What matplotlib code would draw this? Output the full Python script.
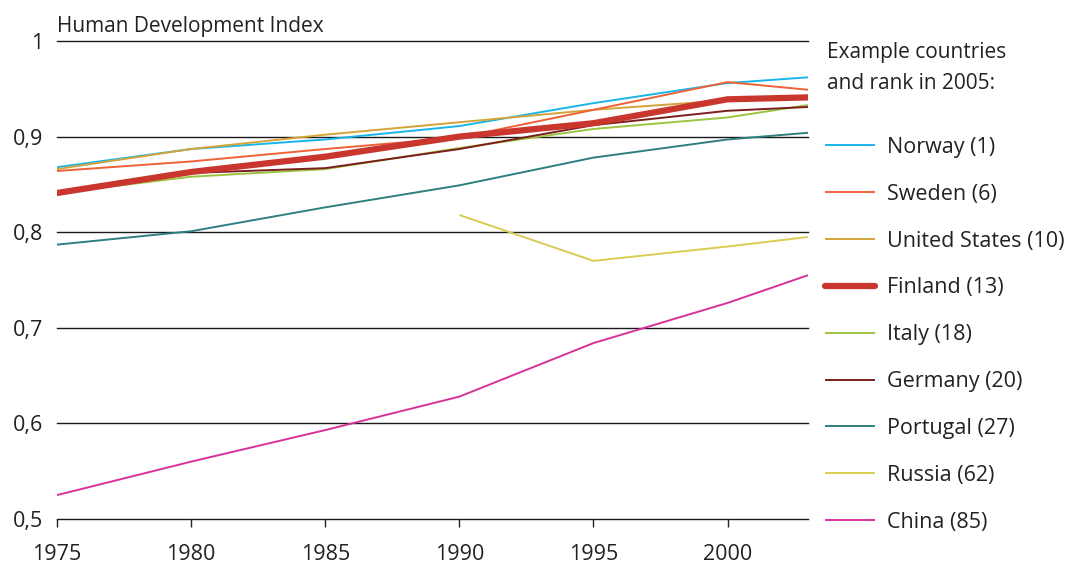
import matplotlib
matplotlib.use("Agg")
import matplotlib.pyplot as plt
from matplotlib.ticker import FuncFormatter

plt.rcParams['font.family'] = ['Open Sans', 'DejaVu Sans']

years = [1975, 1980, 1985, 1990, 1995, 2000, 2003]
russia_years = [1990, 1995, 2000, 2003]

norway   = [0.868, 0.887, 0.897, 0.911, 0.935, 0.956, 0.962]
sweden   = [0.864, 0.874, 0.887, 0.899, 0.928, 0.957, 0.949]
usa      = [0.866, 0.887, 0.902, 0.915, 0.928, 0.938, 0.941]
finland  = [0.841, 0.863, 0.879, 0.900, 0.914, 0.939, 0.941]
italy    = [0.841, 0.858, 0.866, 0.888, 0.908, 0.920, 0.933]
germany  = [0.840, 0.862, 0.867, 0.887, 0.912, 0.927, 0.931]
portugal = [0.787, 0.801, 0.826, 0.849, 0.878, 0.897, 0.904]
russia   = [0.818, 0.770, 0.785, 0.795]
china    = [0.525, 0.560, 0.593, 0.628, 0.684, 0.726, 0.755]

labels = ["Norway (1)", "Sweden (6)", "United States (10)", "Finland (13)",
          "Italy (18)", "Germany (20)", "Portugal (27)", "Russia (62)", "China (85)"]
y_ticks = [0.5, 0.6, 0.7, 0.8, 0.9, 1.0]
x_ticks = [1975, 1980, 1985, 1990, 1995, 2000]

fig = plt.figure(figsize=(10.68, 5.69), dpi=100)
ax = fig.add_axes([57/1068, 1-519/569, (808-57)/1068, (519-41)/569])

series = [
    (years, norway, "#19b5e8", 1.4),
    (years, sweden, "#ef6238", 1.4),
    (years, usa, "#d4a43a", 1.4),
    (years, finland, "#c8362e", 4.5),
    (years, italy, "#9cc43e", 1.4),
    (years, germany, "#7b1e1e", 1.4),
    (years, portugal, "#2f7f80", 1.4),
    (russia_years, russia, "#d9cc50", 1.4),
    (years, china, "#d8329a", 1.4),
]
order_z = [3, 4, 3, 6, 3, 5, 3, 3, 3]
handles = []
for (xs, ys, c, lw), lab, z in zip(series, labels, order_z):
    h, = ax.plot(xs, ys, color=c, lw=lw, label=lab, zorder=z,
                 solid_capstyle='round' if lw > 3 else 'butt')
    handles.append(h)

ax.set_xlim(1975, 2003)
ax.set_ylim(0.5, 1.0)
ax.set_yticks(y_ticks)
ax.set_xticks(x_ticks)
ax.yaxis.set_major_formatter(FuncFormatter(lambda v, p: ("%g" % v).replace(".", ",")))
for s in ax.spines.values():
    s.set_visible(False)
for yv in y_ticks:
    ax.axhline(yv, color="#1a1a1a", lw=1.0, zorder=1, clip_on=False)
ax.tick_params(axis='y', length=0, pad=10, labelsize=15.5, colors="#222222")
ax.tick_params(axis='x', length=6, width=1, direction='out', pad=12, labelsize=15.5,
               colors="#222222")
ax.set_facecolor('none')

fig.text(57/1068, 1-32/569, "Human Development Index", fontsize=15,
         color="#222222", ha='left', va='baseline')
fig.text(827/1068, 1-89/569, "Example countries\nand rank in 2005:", fontsize=15,
         color="#222222", ha='left', va='baseline', linespacing=1.62)

leg = fig.legend(handles=handles, labels=labels, loc='upper left',
                 bbox_to_anchor=(825/1068, 1-137/569), frameon=False,
                 fontsize=15.5, handlelength=2.3, handletextpad=0.6,
                 labelspacing=1.2, borderpad=0, borderaxespad=0)
for t in leg.get_texts():
    t.set_color("#222222")

fig.savefig("out.png", dpi=100)
